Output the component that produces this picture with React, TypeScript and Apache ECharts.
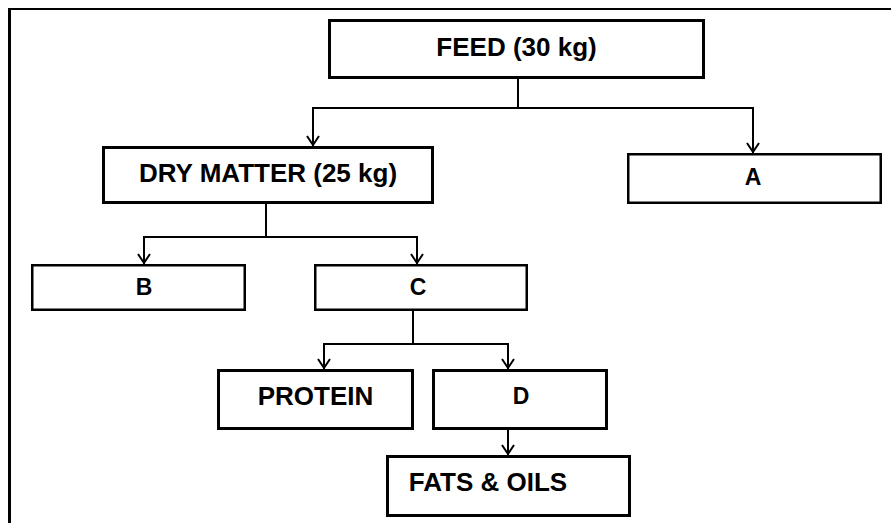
import React, { useEffect, useRef } from "react";
import * as echarts from "echarts";

// Node labels of the flow diagram
const nodeIds = ["feed", "dry", "a", "b", "c", "protein", "d", "fats"];
const nodeLabels = ["FEED (30 kg)", "DRY MATTER (25 kg)", "A", "B", "C", "PROTEIN", "D", "FATS & OILS"];
// parent -> children links
const links: [string, string[]][] = [
  ["feed", ["dry", "a"]],
  ["dry", ["b", "c"]],
  ["c", ["protein", "d"]],
  ["d", ["fats"]],
];

// Layout (pixel boxes) kept separate from the labels
const layout: Record<string, { x: number; y: number; w: number; h: number; bw: number; fs: number; tx?: number; ty?: number }> = {
  feed: { x: 328, y: 19, w: 377, h: 60, bw: 3, fs: 26, ty: 47 },
  dry: { x: 102, y: 146, w: 332, h: 58, bw: 3, fs: 26, ty: 173 },
  a: { x: 627, y: 153, w: 255, h: 51, bw: 2.5, fs: 23, tx: 753, ty: 177 },
  b: { x: 31, y: 264, w: 215, h: 47, bw: 2.5, fs: 23, tx: 144, ty: 287 },
  c: { x: 314, y: 264, w: 214, h: 47, bw: 2.5, fs: 23, tx: 418, ty: 287 },
  protein: { x: 217, y: 369, w: 197, h: 61, bw: 3, fs: 26, ty: 396 },
  d: { x: 432, y: 369, w: 176, h: 61, bw: 3, fs: 23, tx: 521, ty: 396 },
  fats: { x: 386, y: 455, w: 245, h: 62, bw: 3, fs: 26, tx: 488, ty: 482 },
};
// connector geometry: trunk x, bus y, child arrow xs
const connectors: Record<string, { trunkX: number; busY: number; arrowXs: number[] }> = {
  feed: { trunkX: 518, busY: 108, arrowXs: [313, 753] },
  dry: { trunkX: 266, busY: 237, arrowXs: [144, 417] },
  c: { trunkX: 413, busY: 344, arrowXs: [324, 508] },
  d: { trunkX: 508, busY: 430, arrowXs: [508] },
};

export default function App() {
  const ref = useRef<HTMLDivElement>(null);
  useEffect(() => {
    document.body.style.margin = "0";
    const chart = echarts.init(ref.current!, undefined, { renderer: "svg" });
    const els: any[] = [];
    const stroke = "#000";
    // outer frame
    els.push({ type: "line", shape: { x1: 8, y1: 9, x2: 891, y2: 9 }, style: { stroke, lineWidth: 2 } });
    els.push({ type: "line", shape: { x1: 9.5, y1: 8, x2: 9.5, y2: 523 }, style: { stroke, lineWidth: 3 } });

    nodeIds.forEach((id, i) => {
      const b = layout[id];
      els.push({
        type: "rect",
        shape: { x: b.x + b.bw / 2, y: b.y + b.bw / 2, width: b.w - b.bw, height: b.h - b.bw },
        style: { fill: "#fff", stroke, lineWidth: b.bw },
      });
      els.push({
        type: "text",
        x: b.tx ?? b.x + b.w / 2,
        y: b.ty ?? b.y + b.h / 2,
        style: {
          text: nodeLabels[i],
          fill: "#000",
          font: `bold ${b.fs}px "Liberation Sans", Arial, sans-serif`,
          align: "center",
          verticalAlign: "middle",
        },
      });
    });

    links.forEach(([parent, children]) => {
      const p = layout[parent];
      const c = connectors[parent];
      const top = p.y + p.h;
      if (children.length > 1) {
        els.push({ type: "line", shape: { x1: c.trunkX, y1: top, x2: c.trunkX, y2: c.busY }, style: { stroke, lineWidth: 2 } });
        els.push({
          type: "line",
          shape: { x1: Math.min(...c.arrowXs) - 1, y1: c.busY, x2: Math.max(...c.arrowXs) + 1, y2: c.busY },
          style: { stroke, lineWidth: 2 },
        });
      }
      children.forEach((ch, k) => {
        const cb = layout[ch];
        const ax = c.arrowXs[k];
        const startY = children.length > 1 ? c.busY - 1 : top;
        const endY = cb.y;
        els.push({ type: "line", shape: { x1: ax, y1: startY, x2: ax, y2: endY }, style: { stroke, lineWidth: 2 } });
        els.push({
          type: "polyline",
          shape: { points: [[ax - 6, endY - 10], [ax, endY - 1], [ax + 6, endY - 10]] },
          style: { stroke, lineWidth: 2, fill: "none" },
        });
      });
    });

    chart.setOption({
      animation: false,
      backgroundColor: "#fff",
      graphic: { elements: els },
    });
    return () => chart.dispose();
  }, []);
  return <div ref={ref} style={{ width: 891, height: 523 }} />;
}
